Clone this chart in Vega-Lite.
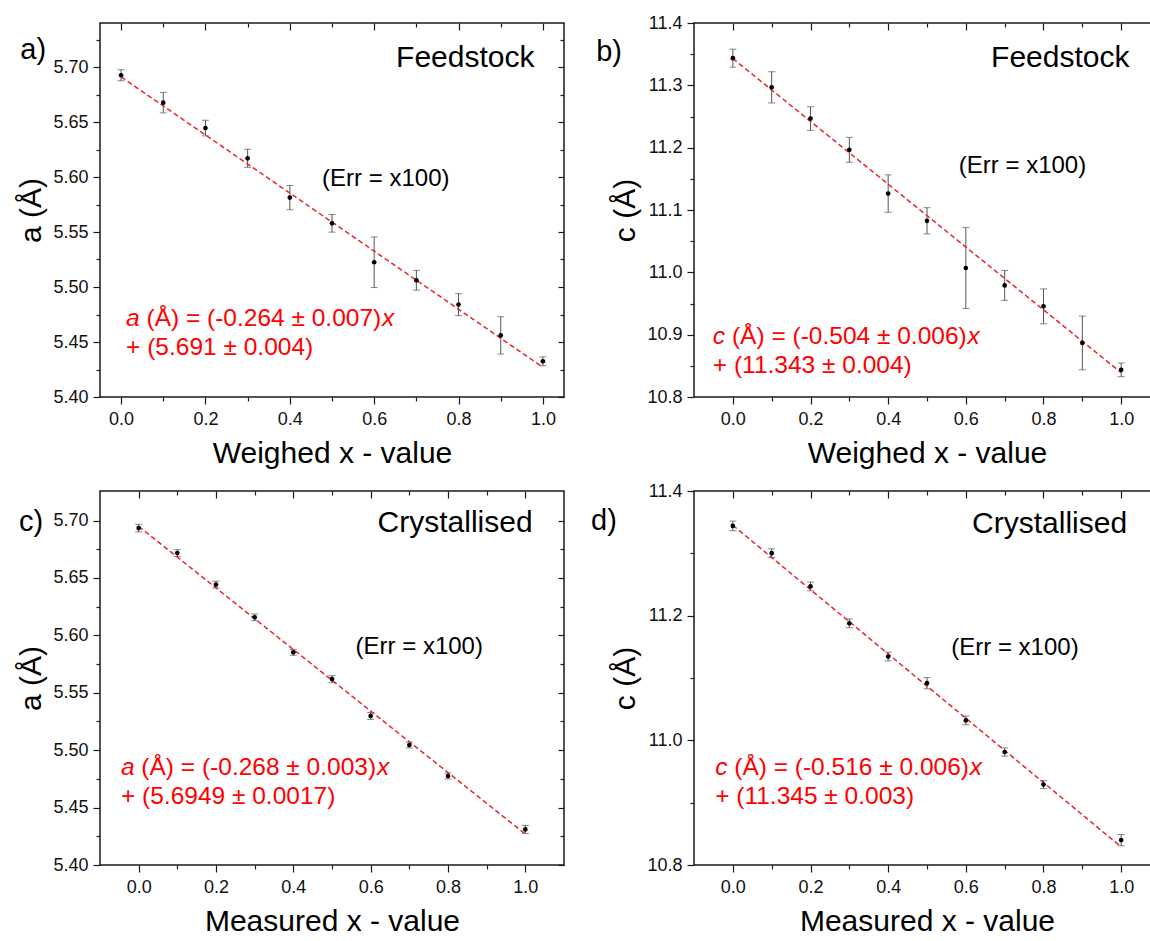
{
  "$schema": "https://vega.github.io/schema/vega-lite/v6.json",
  "padding": {"left": 16, "top": 13, "right": 5, "bottom": 5},
  "background": "white",
  "columns": 2,
  "bounds": "flush",
  "spacing": {"row": 94, "column": 130},
  "datasets": {
    "one": [{}],
    "a_pts": [
      {"x": 0.0, "y": 5.6925, "err": 0.005},
      {"x": 0.1, "y": 5.6676, "err": 0.0093},
      {"x": 0.2, "y": 5.6445, "err": 0.0071},
      {"x": 0.3, "y": 5.617, "err": 0.0082},
      {"x": 0.4, "y": 5.5813, "err": 0.011},
      {"x": 0.5, "y": 5.5579, "err": 0.008},
      {"x": 0.6, "y": 5.5225, "err": 0.023},
      {"x": 0.7, "y": 5.5061, "err": 0.009},
      {"x": 0.8, "y": 5.484, "err": 0.010},
      {"x": 0.9, "y": 5.456, "err": 0.017},
      {"x": 1.0, "y": 5.4325, "err": 0.004}
    ],
    "a_fit": [{"x": 0, "y": 5.691}, {"x": 1, "y": 5.427}],
    "b_pts": [
      {"x": 0.0, "y": 11.3436, "err": 0.0144},
      {"x": 0.1, "y": 11.2968, "err": 0.025},
      {"x": 0.2, "y": 11.2467, "err": 0.019},
      {"x": 0.3, "y": 11.1966, "err": 0.020},
      {"x": 0.4, "y": 11.1264, "err": 0.030},
      {"x": 0.5, "y": 11.0827, "err": 0.021},
      {"x": 0.6, "y": 11.007, "err": 0.065},
      {"x": 0.7, "y": 10.979, "err": 0.024},
      {"x": 0.8, "y": 10.9454, "err": 0.028},
      {"x": 0.9, "y": 10.8867, "err": 0.043},
      {"x": 1.0, "y": 10.8436, "err": 0.011}
    ],
    "b_fit": [{"x": 0, "y": 11.343}, {"x": 1, "y": 10.839}],
    "c_pts": [
      {"x": 0.0, "y": 5.6934, "err": 0.0033},
      {"x": 0.1, "y": 5.6716, "err": 0.003},
      {"x": 0.2, "y": 5.6442, "err": 0.003},
      {"x": 0.3, "y": 5.6157, "err": 0.0029},
      {"x": 0.4, "y": 5.5852, "err": 0.0026},
      {"x": 0.5, "y": 5.5619, "err": 0.003},
      {"x": 0.6, "y": 5.5298, "err": 0.003},
      {"x": 0.7, "y": 5.5045, "err": 0.0026},
      {"x": 0.8, "y": 5.4775, "err": 0.0026},
      {"x": 1.0, "y": 5.431, "err": 0.0035}
    ],
    "c_fit": [{"x": 0, "y": 5.6949}, {"x": 1, "y": 5.4269}],
    "d_pts": [
      {"x": 0.0, "y": 11.344, "err": 0.0077},
      {"x": 0.1, "y": 11.3002, "err": 0.007},
      {"x": 0.2, "y": 11.2469, "err": 0.007},
      {"x": 0.3, "y": 11.1877, "err": 0.007},
      {"x": 0.4, "y": 11.1344, "err": 0.007},
      {"x": 0.5, "y": 11.0917, "err": 0.009},
      {"x": 0.6, "y": 11.032, "err": 0.007},
      {"x": 0.7, "y": 10.9813, "err": 0.0065},
      {"x": 0.8, "y": 10.929, "err": 0.0065},
      {"x": 1.0, "y": 10.84, "err": 0.009}
    ],
    "d_fit": [{"x": 0, "y": 11.345}, {"x": 1, "y": 10.829}]
  },
  "concat": [
    {
      "width": 464, "height": 374,
      "resolve": {"axis": {"x": "independent", "y": "independent"}},
      "layer": [
        {"data": {"name": "a_pts"},
         "mark": {"type": "errorbar", "ticks": {"size": 7}, "color": "#555555", "thickness": 1},
         "encoding": {
           "x": {"field": "x", "type": "quantitative", "scale": {"domain": [-0.05, 1.05], "nice": false, "zero": false},
                 "axis": {"orient": "bottom", "values": [0, 0.2, 0.4, 0.6, 0.8, 1.0], "format": ".1f", "tickSize": 7, "labelPadding": 6, "labelFlush": false, "title": "Weighed x - value", "titlePadding": 10}},
           "y": {"field": "y", "type": "quantitative", "scale": {"domain": [5.40, 5.74], "nice": false, "zero": false},
                 "axis": {"orient": "left", "values": [5.40, 5.45, 5.50, 5.55, 5.60, 5.65, 5.70], "format": ".2f", "tickSize": 7, "labelPadding": 5, "title": "a (Å)", "titlePadding": 6}},
           "yError": {"field": "err"}
         }},
        {"data": {"name": "a_fit"},
         "mark": {"type": "line", "color": "#e8262c", "strokeDash": [5, 3], "strokeWidth": 1.5},
         "encoding": {
           "x": {"field": "x", "type": "quantitative", "scale": {"domain": [-0.05, 1.05], "nice": false, "zero": false},
                 "axis": {"orient": "bottom", "values": [0.1, 0.3, 0.5, 0.7, 0.9], "tickSize": 4, "labels": false, "title": null}},
           "y": {"field": "y", "type": "quantitative", "scale": {"domain": [5.40, 5.74], "nice": false, "zero": false},
                 "axis": {"orient": "left", "values": [5.425, 5.475, 5.525, 5.575, 5.625, 5.675, 5.725], "tickSize": 4, "labels": false, "title": null}}
         }},
        {"data": {"name": "a_pts"},
         "mark": {"type": "point", "filled": true, "color": "#000000", "size": 22, "opacity": 1},
         "encoding": {
           "x": {"field": "x", "type": "quantitative", "scale": {"domain": [-0.05, 1.05], "nice": false, "zero": false},
                 "axis": {"orient": "top", "values": [0, 0.2, 0.4, 0.6, 0.8, 1.0], "tickSize": -7, "labels": false, "title": null}},
           "y": {"field": "y", "type": "quantitative", "scale": {"domain": [5.40, 5.74], "nice": false, "zero": false},
                 "axis": {"orient": "right", "values": [5.40, 5.45, 5.50, 5.55, 5.60, 5.65, 5.70], "tickSize": -6, "labels": false, "title": null}}
         }},
        {"data": {"name": "one"},
         "mark": {"type": "text", "text": "Feedstock", "align": "right", "baseline": "alphabetic", "fontSize": 30, "color": "#000000"},
         "encoding": {
           "x": {"datum": 0.98, "type": "quantitative", "scale": {"domain": [-0.05, 1.05], "nice": false, "zero": false},
                 "axis": {"orient": "top", "values": [0.1, 0.3, 0.5, 0.7, 0.9], "tickSize": -4, "labels": false, "title": null}},
           "y": {"datum": 5.70, "type": "quantitative", "scale": {"domain": [5.40, 5.74], "nice": false, "zero": false},
                 "axis": {"orient": "right", "values": [5.425, 5.475, 5.525, 5.575, 5.625, 5.675, 5.725], "tickSize": -4, "labels": false, "title": null}}
         }},
        {"data": {"name": "one"}, "mark": {"type": "text", "text": "(Err = x100)", "align": "center", "baseline": "alphabetic", "fontSize": 24, "color": "#000000"},
         "encoding": {"x": {"datum": 0.6275, "type": "quantitative", "axis": null}, "y": {"datum": 5.5918, "type": "quantitative", "axis": null}}},
        {"data": {"name": "one"}, "mark": {"type": "text", "text": "a", "fontStyle": "italic", "align": "left", "baseline": "alphabetic", "fontSize": 24.5, "color": "#ff0000"},
         "encoding": {"x": {"datum": 0.0118, "type": "quantitative", "axis": null}, "y": {"datum": 5.4643, "type": "quantitative", "axis": null}}},
        {"data": {"name": "one"}, "mark": {"type": "text", "text": "(Å) = (-0.264 ± 0.007)", "dx": 20.4, "align": "left", "baseline": "alphabetic", "fontSize": 24.5, "color": "#ff0000"},
         "encoding": {"x": {"datum": 0.0118, "type": "quantitative", "axis": null}, "y": {"datum": 5.4643, "type": "quantitative", "axis": null}}},
        {"data": {"name": "one"}, "mark": {"type": "text", "text": "x", "fontStyle": "italic", "dx": 256, "align": "left", "baseline": "alphabetic", "fontSize": 24.5, "color": "#ff0000"},
         "encoding": {"x": {"datum": 0.0118, "type": "quantitative", "axis": null}, "y": {"datum": 5.4643, "type": "quantitative", "axis": null}}},
        {"data": {"name": "one"}, "mark": {"type": "text", "text": "+ (5.691 ± 0.004)", "align": "left", "baseline": "alphabetic", "fontSize": 24.5, "color": "#ff0000"},
         "encoding": {"x": {"datum": 0.0118, "type": "quantitative", "axis": null}, "y": {"datum": 5.4379, "type": "quantitative", "axis": null}}},
        {"data": {"name": "one"}, "mark": {"type": "text", "text": "a)", "align": "left", "baseline": "alphabetic", "fontSize": 29, "color": "#000000"},
         "encoding": {"x": {"datum": -0.239, "type": "quantitative", "axis": null}, "y": {"datum": 5.7076, "type": "quantitative", "axis": null}}}
      ]
    },
    {
      "width": 466, "height": 374,
      "resolve": {"axis": {"x": "independent", "y": "independent"}},
      "layer": [
        {"data": {"name": "b_pts"},
         "mark": {"type": "errorbar", "ticks": {"size": 7}, "color": "#555555", "thickness": 1},
         "encoding": {
           "x": {"field": "x", "type": "quantitative", "scale": {"domain": [-0.1, 1.1], "nice": false, "zero": false},
                 "axis": {"orient": "bottom", "values": [0, 0.2, 0.4, 0.6, 0.8, 1.0], "format": ".1f", "tickSize": 7, "labelPadding": 6, "labelFlush": false, "title": "Weighed x - value", "titlePadding": 10}},
           "y": {"field": "y", "type": "quantitative", "scale": {"domain": [10.8, 11.4], "nice": false, "zero": false},
                 "axis": {"orient": "left", "values": [10.8, 10.9, 11.0, 11.1, 11.2, 11.3, 11.4], "format": ".1f", "tickSize": 7, "labelPadding": 5, "title": "c (Å)", "titlePadding": 6}},
           "yError": {"field": "err"}
         }},
        {"data": {"name": "b_fit"},
         "mark": {"type": "line", "color": "#e8262c", "strokeDash": [5, 3], "strokeWidth": 1.5},
         "encoding": {
           "x": {"field": "x", "type": "quantitative", "scale": {"domain": [-0.1, 1.1], "nice": false, "zero": false},
                 "axis": {"orient": "bottom", "values": [0.1, 0.3, 0.5, 0.7, 0.9], "tickSize": 4, "labels": false, "title": null}},
           "y": {"field": "y", "type": "quantitative", "scale": {"domain": [10.8, 11.4], "nice": false, "zero": false},
                 "axis": {"orient": "left", "values": [10.85, 10.95, 11.05, 11.15, 11.25, 11.35], "tickSize": 4, "labels": false, "title": null}}
         }},
        {"data": {"name": "b_pts"},
         "mark": {"type": "point", "filled": true, "color": "#000000", "size": 22, "opacity": 1},
         "encoding": {
           "x": {"field": "x", "type": "quantitative", "scale": {"domain": [-0.1, 1.1], "nice": false, "zero": false},
                 "axis": {"orient": "top", "values": [0, 0.2, 0.4, 0.6, 0.8, 1.0], "tickSize": -7, "labels": false, "title": null}},
           "y": {"field": "y", "type": "quantitative", "scale": {"domain": [10.8, 11.4], "nice": false, "zero": false},
                 "axis": {"orient": "right", "values": [10.8, 10.9, 11.0, 11.1, 11.2, 11.3, 11.4], "tickSize": -6, "labels": false, "title": null}}
         }},
        {"data": {"name": "one"},
         "mark": {"type": "text", "text": "Feedstock", "align": "right", "baseline": "alphabetic", "fontSize": 30, "color": "#000000"},
         "encoding": {
           "x": {"datum": 1.0214, "type": "quantitative", "scale": {"domain": [-0.1, 1.1], "nice": false, "zero": false},
                 "axis": {"orient": "top", "values": [0.1, 0.3, 0.5, 0.7, 0.9], "tickSize": -4, "labels": false, "title": null}},
           "y": {"datum": 11.3287, "type": "quantitative", "scale": {"domain": [10.8, 11.4], "nice": false, "zero": false},
                 "axis": {"orient": "right", "values": [10.85, 10.95, 11.05, 11.15, 11.25, 11.35], "tickSize": -4, "labels": false, "title": null}}
         }},
        {"data": {"name": "one"}, "mark": {"type": "text", "text": "(Err = x100)", "align": "center", "baseline": "alphabetic", "fontSize": 24, "color": "#000000"},
         "encoding": {"x": {"datum": 0.7459, "type": "quantitative", "axis": null}, "y": {"datum": 11.16, "type": "quantitative", "axis": null}}},
        {"data": {"name": "one"}, "mark": {"type": "text", "text": "c", "fontStyle": "italic", "align": "left", "baseline": "alphabetic", "fontSize": 24.5, "color": "#ff0000"},
         "encoding": {"x": {"datum": -0.0515, "type": "quantitative", "axis": null}, "y": {"datum": 10.8846, "type": "quantitative", "axis": null}}},
        {"data": {"name": "one"}, "mark": {"type": "text", "text": "(Å) = (-0.504 ± 0.006)", "dx": 19.1, "align": "left", "baseline": "alphabetic", "fontSize": 24.5, "color": "#ff0000"},
         "encoding": {"x": {"datum": -0.0515, "type": "quantitative", "axis": null}, "y": {"datum": 10.8846, "type": "quantitative", "axis": null}}},
        {"data": {"name": "one"}, "mark": {"type": "text", "text": "x", "fontStyle": "italic", "dx": 254.7, "align": "left", "baseline": "alphabetic", "fontSize": 24.5, "color": "#ff0000"},
         "encoding": {"x": {"datum": -0.0515, "type": "quantitative", "axis": null}, "y": {"datum": 10.8846, "type": "quantitative", "axis": null}}},
        {"data": {"name": "one"}, "mark": {"type": "text", "text": "+ (11.343 ± 0.004)", "align": "left", "baseline": "alphabetic", "fontSize": 24.5, "color": "#ff0000"},
         "encoding": {"x": {"datum": -0.0515, "type": "quantitative", "axis": null}, "y": {"datum": 10.838, "type": "quantitative", "axis": null}}},
        {"data": {"name": "one"}, "mark": {"type": "text", "text": "b)", "align": "left", "baseline": "alphabetic", "fontSize": 29, "color": "#000000"},
         "encoding": {"x": {"datum": -0.352, "type": "quantitative", "axis": null}, "y": {"datum": 11.3395, "type": "quantitative", "axis": null}}}
      ]
    },
    {
      "width": 464, "height": 374,
      "resolve": {"axis": {"x": "independent", "y": "independent"}},
      "layer": [
        {"data": {"name": "c_pts"},
         "mark": {"type": "errorbar", "ticks": {"size": 7}, "color": "#555555", "thickness": 1},
         "encoding": {
           "x": {"field": "x", "type": "quantitative", "scale": {"domain": [-0.1, 1.1], "nice": false, "zero": false},
                 "axis": {"orient": "bottom", "values": [0, 0.2, 0.4, 0.6, 0.8, 1.0], "format": ".1f", "tickSize": 7, "labelPadding": 6, "labelFlush": false, "title": "Measured x - value", "titlePadding": 10}},
           "y": {"field": "y", "type": "quantitative", "scale": {"domain": [5.40, 5.7257], "nice": false, "zero": false},
                 "axis": {"orient": "left", "values": [5.40, 5.45, 5.50, 5.55, 5.60, 5.65, 5.70], "format": ".2f", "tickSize": 7, "labelPadding": 5, "title": "a (Å)", "titlePadding": 6}},
           "yError": {"field": "err"}
         }},
        {"data": {"name": "c_fit"},
         "mark": {"type": "line", "color": "#e8262c", "strokeDash": [5, 3], "strokeWidth": 1.5},
         "encoding": {
           "x": {"field": "x", "type": "quantitative", "scale": {"domain": [-0.1, 1.1], "nice": false, "zero": false},
                 "axis": {"orient": "bottom", "values": [0.1, 0.3, 0.5, 0.7, 0.9], "tickSize": 4, "labels": false, "title": null}},
           "y": {"field": "y", "type": "quantitative", "scale": {"domain": [5.40, 5.7257], "nice": false, "zero": false},
                 "axis": {"orient": "left", "values": [5.425, 5.475, 5.525, 5.575, 5.625, 5.675], "tickSize": 4, "labels": false, "title": null}}
         }},
        {"data": {"name": "c_pts"},
         "mark": {"type": "point", "filled": true, "color": "#000000", "size": 22, "opacity": 1},
         "encoding": {
           "x": {"field": "x", "type": "quantitative", "scale": {"domain": [-0.1, 1.1], "nice": false, "zero": false},
                 "axis": {"orient": "top", "values": [0, 0.2, 0.4, 0.6, 0.8, 1.0], "tickSize": -7, "labels": false, "title": null}},
           "y": {"field": "y", "type": "quantitative", "scale": {"domain": [5.40, 5.7257], "nice": false, "zero": false},
                 "axis": {"orient": "right", "values": [5.40, 5.45, 5.50, 5.55, 5.60, 5.65, 5.70], "tickSize": -6, "labels": false, "title": null}}
         }},
        {"data": {"name": "one"},
         "mark": {"type": "text", "text": "Crystallised", "align": "right", "baseline": "alphabetic", "fontSize": 30, "color": "#000000"},
         "encoding": {
           "x": {"datum": 1.0189, "type": "quantitative", "scale": {"domain": [-0.1, 1.1], "nice": false, "zero": false},
                 "axis": {"orient": "top", "values": [0.1, 0.3, 0.5, 0.7, 0.9], "tickSize": -4, "labels": false, "title": null}},
           "y": {"datum": 5.6899, "type": "quantitative", "scale": {"domain": [5.40, 5.7257], "nice": false, "zero": false},
                 "axis": {"orient": "right", "values": [5.425, 5.475, 5.525, 5.575, 5.625, 5.675], "tickSize": -4, "labels": false, "title": null}}
         }},
        {"data": {"name": "one"}, "mark": {"type": "text", "text": "(Err = x100)", "align": "center", "baseline": "alphabetic", "fontSize": 24, "color": "#000000"},
         "encoding": {"x": {"datum": 0.7256, "type": "quantitative", "axis": null}, "y": {"datum": 5.5835, "type": "quantitative", "axis": null}}},
        {"data": {"name": "one"}, "mark": {"type": "text", "text": "a", "fontStyle": "italic", "align": "left", "baseline": "alphabetic", "fontSize": 24.5, "color": "#ff0000"},
         "encoding": {"x": {"datum": -0.0458, "type": "quantitative", "axis": null}, "y": {"datum": 5.4783, "type": "quantitative", "axis": null}}},
        {"data": {"name": "one"}, "mark": {"type": "text", "text": "(Å) = (-0.268 ± 0.003)", "dx": 20.4, "align": "left", "baseline": "alphabetic", "fontSize": 24.5, "color": "#ff0000"},
         "encoding": {"x": {"datum": -0.0458, "type": "quantitative", "axis": null}, "y": {"datum": 5.4783, "type": "quantitative", "axis": null}}},
        {"data": {"name": "one"}, "mark": {"type": "text", "text": "x", "fontStyle": "italic", "dx": 256, "align": "left", "baseline": "alphabetic", "fontSize": 24.5, "color": "#ff0000"},
         "encoding": {"x": {"datum": -0.0458, "type": "quantitative", "axis": null}, "y": {"datum": 5.4783, "type": "quantitative", "axis": null}}},
        {"data": {"name": "one"}, "mark": {"type": "text", "text": "+ (5.6949 ± 0.0017)", "align": "left", "baseline": "alphabetic", "fontSize": 24.5, "color": "#ff0000"},
         "encoding": {"x": {"datum": -0.0458, "type": "quantitative", "axis": null}, "y": {"datum": 5.4528, "type": "quantitative", "axis": null}}},
        {"data": {"name": "one"}, "mark": {"type": "text", "text": "c)", "align": "left", "baseline": "alphabetic", "fontSize": 29, "color": "#000000"},
         "encoding": {"x": {"datum": -0.3095, "type": "quantitative", "axis": null}, "y": {"datum": 5.6908, "type": "quantitative", "axis": null}}}
      ]
    },
    {
      "width": 466, "height": 374,
      "resolve": {"axis": {"x": "independent", "y": "independent"}},
      "layer": [
        {"data": {"name": "d_pts"},
         "mark": {"type": "errorbar", "ticks": {"size": 7}, "color": "#555555", "thickness": 1},
         "encoding": {
           "x": {"field": "x", "type": "quantitative", "scale": {"domain": [-0.1, 1.1], "nice": false, "zero": false},
                 "axis": {"orient": "bottom", "values": [0, 0.2, 0.4, 0.6, 0.8, 1.0], "format": ".1f", "tickSize": 7, "labelPadding": 6, "labelFlush": false, "title": "Measured x - value", "titlePadding": 10}},
           "y": {"field": "y", "type": "quantitative", "scale": {"domain": [10.8, 11.4], "nice": false, "zero": false},
                 "axis": {"orient": "left", "values": [10.8, 11.0, 11.2, 11.4], "format": ".1f", "tickSize": 7, "labelPadding": 5, "title": "c (Å)", "titlePadding": 6}},
           "yError": {"field": "err"}
         }},
        {"data": {"name": "d_fit"},
         "mark": {"type": "line", "color": "#e8262c", "strokeDash": [5, 3], "strokeWidth": 1.5},
         "encoding": {
           "x": {"field": "x", "type": "quantitative", "scale": {"domain": [-0.1, 1.1], "nice": false, "zero": false},
                 "axis": {"orient": "bottom", "values": [0.1, 0.3, 0.5, 0.7, 0.9], "tickSize": 4, "labels": false, "title": null}},
           "y": {"field": "y", "type": "quantitative", "scale": {"domain": [10.8, 11.4], "nice": false, "zero": false},
                 "axis": {"orient": "left", "values": [10.9, 11.1, 11.3], "tickSize": 4, "labels": false, "title": null}}
         }},
        {"data": {"name": "d_pts"},
         "mark": {"type": "point", "filled": true, "color": "#000000", "size": 22, "opacity": 1},
         "encoding": {
           "x": {"field": "x", "type": "quantitative", "scale": {"domain": [-0.1, 1.1], "nice": false, "zero": false},
                 "axis": {"orient": "top", "values": [0, 0.2, 0.4, 0.6, 0.8, 1.0], "tickSize": -7, "labels": false, "title": null}},
           "y": {"field": "y", "type": "quantitative", "scale": {"domain": [10.8, 11.4], "nice": false, "zero": false},
                 "axis": {"orient": "right", "values": [10.8, 11.0, 11.2, 11.4], "tickSize": -6, "labels": false, "title": null}}
         }},
        {"data": {"name": "one"},
         "mark": {"type": "text", "text": "Crystallised", "align": "right", "baseline": "alphabetic", "fontSize": 30, "color": "#000000"},
         "encoding": {
           "x": {"datum": 1.0154, "type": "quantitative", "scale": {"domain": [-0.1, 1.1], "nice": false, "zero": false},
                 "axis": {"orient": "top", "values": [0.1, 0.3, 0.5, 0.7, 0.9], "tickSize": -4, "labels": false, "title": null}},
           "y": {"datum": 11.3332, "type": "quantitative", "scale": {"domain": [10.8, 11.4], "nice": false, "zero": false},
                 "axis": {"orient": "right", "values": [10.9, 11.1, 11.3], "tickSize": -4, "labels": false, "title": null}}
         }},
        {"data": {"name": "one"}, "mark": {"type": "text", "text": "(Err = x100)", "align": "center", "baseline": "alphabetic", "fontSize": 24, "color": "#000000"},
         "encoding": {"x": {"datum": 0.7265, "type": "quantitative", "axis": null}, "y": {"datum": 11.1372, "type": "quantitative", "axis": null}}},
        {"data": {"name": "one"}, "mark": {"type": "text", "text": "c", "fontStyle": "italic", "align": "left", "baseline": "alphabetic", "fontSize": 24.5, "color": "#ff0000"},
         "encoding": {"x": {"datum": -0.0456, "type": "quantitative", "axis": null}, "y": {"datum": 10.9442, "type": "quantitative", "axis": null}}},
        {"data": {"name": "one"}, "mark": {"type": "text", "text": "(Å) = (-0.516 ± 0.006)", "dx": 19.1, "align": "left", "baseline": "alphabetic", "fontSize": 24.5, "color": "#ff0000"},
         "encoding": {"x": {"datum": -0.0456, "type": "quantitative", "axis": null}, "y": {"datum": 10.9442, "type": "quantitative", "axis": null}}},
        {"data": {"name": "one"}, "mark": {"type": "text", "text": "x", "fontStyle": "italic", "dx": 254.7, "align": "left", "baseline": "alphabetic", "fontSize": 24.5, "color": "#ff0000"},
         "encoding": {"x": {"datum": -0.0456, "type": "quantitative", "axis": null}, "y": {"datum": 10.9442, "type": "quantitative", "axis": null}}},
        {"data": {"name": "one"}, "mark": {"type": "text", "text": "+ (11.345 ± 0.003)", "align": "left", "baseline": "alphabetic", "fontSize": 24.5, "color": "#ff0000"},
         "encoding": {"x": {"datum": -0.0456, "type": "quantitative", "axis": null}, "y": {"datum": 10.8978, "type": "quantitative", "axis": null}}},
        {"data": {"name": "one"}, "mark": {"type": "text", "text": "d)", "align": "left", "baseline": "alphabetic", "fontSize": 29, "color": "#000000"},
         "encoding": {"x": {"datum": -0.365, "type": "quantitative", "axis": null}, "y": {"datum": 11.3375, "type": "quantitative", "axis": null}}}
      ]
    }
  ],
  "config": {
    "font": "Liberation Sans",
    "view": {"stroke": "#1a1a1a", "strokeWidth": 1.5},
    "axis": {
      "domain": false, "grid": false,
      "tickColor": "#1a1a1a", "tickWidth": 1.2,
      "labelFont": "Liberation Sans", "labelFontSize": 18, "labelColor": "#111111",
      "titleFont": "Liberation Sans", "titleFontSize": 30, "titleFontWeight": "normal", "titleColor": "#000000"
    },
    "text": {"font": "Liberation Sans"}
  }
}
